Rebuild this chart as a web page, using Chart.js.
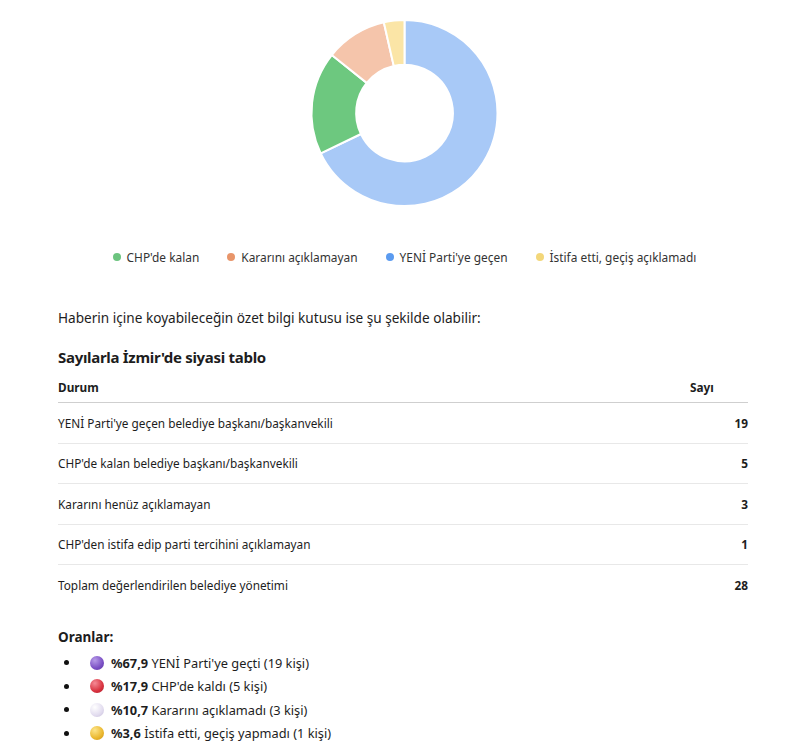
<!DOCTYPE html>
<html lang="tr">
<head>
<meta charset="utf-8">
<script src="https://cdn.jsdelivr.net/npm/chart.js@4.4.1/dist/chart.umd.min.js"></script>
<style>
  html,body{margin:0;padding:0;background:#fff;}
  body{width:809px;height:754px;position:relative;overflow:hidden;font-family:"Noto Sans","Open Sans",sans-serif;color:#1d1d1d;}
  #chartBox{position:absolute;left:0;top:19px;width:809px;height:188px;}
  #legend{position:absolute;left:0;top:249px;width:809px;display:flex;justify-content:center;gap:28px;font-size:11.9px;color:#333;}
  #legend .item{display:flex;align-items:center;white-space:nowrap;}
  #legend .dot{width:8px;height:8px;border-radius:50%;margin-right:6px;}
  #intro{position:absolute;left:58px;top:308px;font-size:13.6px;}
  #title{position:absolute;left:58px;top:347px;font-size:15px;font-weight:bold;letter-spacing:-0.3px;}
  table{position:absolute;left:58px;top:372px;width:690px;border-collapse:collapse;font-size:11.8px;}
  th{font-weight:bold;text-align:left;height:30px;padding:0;border-bottom:1px solid #cfcfcf;vertical-align:middle;}
  th.num{padding-left:0;width:58px;}
  td{height:39.5px;padding:0;border-bottom:1px solid #e8e8e8;vertical-align:middle;}
  tr:last-child td{border-bottom:none;}
  td.num{text-align:right;font-weight:bold;}
  #oranTitle{position:absolute;left:58px;top:628px;font-size:13.5px;font-weight:bold;}
  #oranList{position:absolute;left:58px;top:651px;margin:0;padding:0;list-style:none;font-size:12.8px;}
  #oranList li{height:23.5px;display:flex;align-items:center;position:relative;}
  #oranList .bul{width:5px;height:5px;border-radius:50%;background:#111;margin-left:6px;margin-right:21px;}
  #oranList .ball{width:14px;height:14px;border-radius:50%;margin-right:7px;display:inline-block;font-size:0;color:transparent;overflow:hidden;}
</style>
</head>
<body>
<div id="chartBox"><canvas id="c"></canvas></div>
<div id="legend"></div>
<div id="intro">Haberin içine koyabileceğin özet bilgi kutusu ise şu şekilde olabilir:</div>
<div id="title">Sayılarla İzmir'de siyasi tablo</div>
<table id="tbl"><thead><tr><th>Durum</th><th class="num">Sayı</th></tr></thead><tbody></tbody></table>
<div id="oranTitle">Oranlar:</div>
<ul id="oranList"></ul>
<script>
// ---- data ----
const categories = ["YENİ Parti'ye geçen", "CHP'de kalan", "Kararını açıklamayan", "İstifa etti, geçiş açıklamadı"];
const values = [19, 5, 3, 1];
const sliceColors = ['#a8c9f7', '#6dc87f', '#f5c5ab', '#fbe5a6'];
const legendOrder = [1, 2, 0, 3];
const legendColors = ['#5b9bf0', '#6cc47f', '#e8956a', '#f3d77a'];

const tableLabels = ["YENİ Parti'ye geçen belediye başkanı/başkanvekili", "CHP'de kalan belediye başkanı/başkanvekili", "Kararını henüz açıklamayan", "CHP'den istifa edip parti tercihini açıklamayan", "Toplam değerlendirilen belediye yönetimi"];
const tableValues = [19, 5, 3, 1, 28];

const rateEmoji = ['🟣', '🔴', '⚪', '🟡'];
const rateBalls = ['radial-gradient(circle at 35% 30%, #b79be8, #7a4fc4 60%, #5a34a0)', 'radial-gradient(circle at 35% 30%, #f58a95, #d8323f 60%, #a81c28)', 'radial-gradient(circle at 35% 30%, #ffffff, #e2dcef 60%, #c5bcd9)', 'radial-gradient(circle at 35% 30%, #fde58a, #eab72e 60%, #c98f12)'];
const ratePercents = ['%67,9', '%17,9', '%10,7', '%3,6'];
const rateTexts = ["YENİ Parti'ye geçti (19 kişi)", "CHP'de kaldı (5 kişi)", "Kararını açıklamadı (3 kişi)", "İstifa etti, geçiş yapmadı (1 kişi)"];

// ---- chart ----
new Chart(document.getElementById('c'), {
  type: 'doughnut',
  data: {
    labels: categories,
    datasets: [{ data: values, backgroundColor: sliceColors, borderColor: '#ffffff', borderWidth: 2, hoverOffset: 0 }]
  },
  options: {
    responsive: true,
    maintainAspectRatio: false,
    animation: false,
    cutout: '52%',
    layout: { padding: 0 },
    plugins: { legend: { display: false }, tooltip: { enabled: false } }
  }
});

// ---- html legend ----
const lg = document.getElementById('legend');
legendOrder.forEach(i => {
  const it = document.createElement('div'); it.className = 'item';
  const d = document.createElement('span'); d.className = 'dot'; d.style.background = legendColors[i];
  const t = document.createElement('span'); t.textContent = categories[i];
  it.appendChild(d); it.appendChild(t); lg.appendChild(it);
});

// ---- table ----
const tb = document.querySelector('#tbl tbody');
tableLabels.forEach((l, i) => {
  const tr = document.createElement('tr');
  const a = document.createElement('td'); a.textContent = l;
  const b = document.createElement('td'); b.className = 'num'; b.textContent = tableValues[i];
  tr.appendChild(a); tr.appendChild(b); tb.appendChild(tr);
});

// ---- list ----
const ul = document.getElementById('oranList');
ratePercents.forEach((p, i) => {
  const li = document.createElement('li');
  li.innerHTML = '<span class="bul"></span><span class="ball" style="background:' + rateBalls[i] + '">' + rateEmoji[i] + '</span><b>' + p + '</b>&nbsp;' + rateTexts[i];
  ul.appendChild(li);
});
</script>
</body>
</html>
